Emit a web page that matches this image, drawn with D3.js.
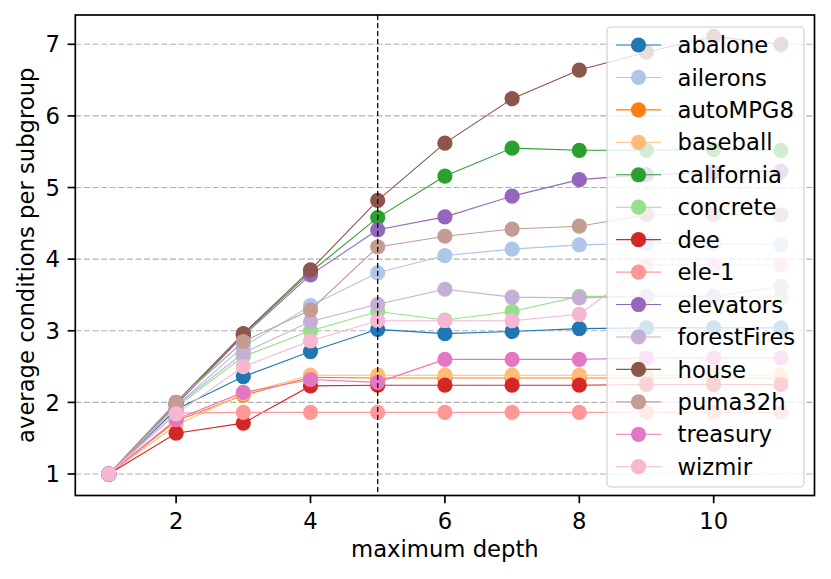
<!DOCTYPE html>
<html>
<head>
<meta charset="utf-8">
<script src="https://cdn.jsdelivr.net/npm/d3@7"></script>
<style>
  html, body { margin: 0; padding: 0; background: #fff; }
  svg { display: block; font-family: "DejaVu Sans", sans-serif; }
</style>
</head>
<body>
<svg id="chart" width="831" height="579"></svg>
<script>
// ---- data ----
const depths = [1, 2, 3, 4, 5, 6, 7, 8, 9, 10, 11];
const seriesNames = ["abalone", "ailerons", "autoMPG8", "baseball", "california", "concrete",
  "dee", "ele-1", "elevators", "forestFires", "house", "puma32h", "treasury", "wizmir"];
const abalone     = [1, 1.90, 2.36, 2.71, 3.02, 2.96, 2.99, 3.03, 3.04, 3.04, 3.04];
const ailerons    = [1, 1.95, 2.78, 3.35, 3.81, 4.05, 4.14, 4.20, 4.22, 4.22, 4.20];
const autoMPG8    = [1, 1.74, 2.10, 2.35, 2.34, 2.34, 2.34, 2.34, 2.34, 2.34, 2.34];
const baseball    = [1, 1.68, 2.12, 2.38, 2.38, 2.38, 2.38, 2.38, 2.38, 2.38, 2.38];
const california  = [1, 1.97, 2.95, 3.82, 4.58, 5.16, 5.55, 5.52, 5.52, 5.53, 5.52];
const concrete    = [1, 1.93, 2.64, 3.00, 3.27, 3.15, 3.27, 3.48, 3.48, 3.48, 3.47];
const dee         = [1, 1.57, 1.71, 2.23, 2.24, 2.24, 2.24, 2.24, 2.25, 2.25, 2.25];
const ele1        = [1, 1.85, 1.86, 1.86, 1.86, 1.86, 1.86, 1.86, 1.86, 1.86, 1.86];
const elevators   = [1, 1.97, 2.93, 3.78, 4.41, 4.59, 4.88, 5.11, 5.18, 5.21, 5.23];
const forestFires = [1, 1.95, 2.69, 3.13, 3.37, 3.58, 3.47, 3.46, 3.48, 3.48, 3.62];
const house       = [1, 2.00, 2.96, 3.85, 4.82, 5.62, 6.24, 6.64, 6.89, 7.11, 7.00];
const puma32h     = [1, 2.00, 2.85, 3.29, 4.17, 4.32, 4.42, 4.46, 4.62, 4.62, 4.62];
const treasury    = [1, 1.76, 2.14, 2.32, 2.28, 2.60, 2.60, 2.60, 2.62, 2.62, 2.62];
const wizmir      = [1, 1.84, 2.50, 2.86, 3.14, 3.14, 3.14, 3.23, 3.92, 3.92, 3.92];
const seriesValues = [abalone, ailerons, autoMPG8, baseball, california, concrete,
  dee, ele1, elevators, forestFires, house, puma32h, treasury, wizmir];
const colors = ["#1f77b4", "#aec7e8", "#ff7f0e", "#ffbb78", "#2ca02c", "#98df8a",
  "#d62728", "#ff9896", "#9467bd", "#c5b0d5", "#8c564b", "#c49c94", "#e377c2", "#f7b6d2"];
const xTicks = [2, 4, 6, 8, 10];
const yTicks = [1, 2, 3, 4, 5, 6, 7];
const markerLine = 5;

// ---- layout ----
const L = 75.3, R = 814.5, T = 15, B = 495.5;
const svg = d3.select("#chart");
const x = d3.scaleLinear().domain([0.5, 11.5]).range([L, R]);
const y = d3.scaleLinear().domain([0.700, 7.409]).range([B, T]);
const FS = 22.7;

// grid
svg.append("g").selectAll("line").data(yTicks).join("line")
  .attr("x1", L).attr("x2", R)
  .attr("y1", d => y(d)).attr("y2", d => y(d))
  .attr("stroke", "#b0b0b0").attr("stroke-width", 1.1)
  .attr("stroke-dasharray", "6,2.6");

// series
const line = d3.line().x((d, i) => x(depths[i])).y(d => y(d));
const plot = svg.append("g");
seriesValues.forEach((vals, k) => {
  const g = plot.append("g");
  g.append("path").datum(vals).attr("d", line)
    .attr("fill", "none").attr("stroke", colors[k]).attr("stroke-width", 1.1);
  g.selectAll("circle").data(vals).join("circle")
    .attr("cx", (d, i) => x(depths[i])).attr("cy", d => y(d))
    .attr("r", 7.6).attr("fill", colors[k]);
});

// vertical reference line
svg.append("line")
  .attr("x1", x(markerLine)).attr("x2", x(markerLine))
  .attr("y1", T).attr("y2", B)
  .attr("stroke", "#000").attr("stroke-width", 1.3)
  .attr("stroke-dasharray", "5,3");

// axes box
svg.append("rect").attr("x", L).attr("y", T).attr("width", R - L).attr("height", B - T)
  .attr("fill", "none").attr("stroke", "#000").attr("stroke-width", 1.7);

// x ticks
const xt = svg.append("g");
xt.selectAll("line").data(xTicks).join("line")
  .attr("x1", d => x(d)).attr("x2", d => x(d))
  .attr("y1", B).attr("y2", B + 7.7)
  .attr("stroke", "#000").attr("stroke-width", 1.7);
xt.selectAll("text").data(xTicks).join("text")
  .attr("x", d => x(d)).attr("y", 529)
  .attr("text-anchor", "middle").attr("font-size", FS).attr("fill", "#000")
  .text(d => d);

// y ticks
const yt = svg.append("g");
yt.selectAll("line").data(yTicks).join("line")
  .attr("x1", L - 7.7).attr("x2", L)
  .attr("y1", d => y(d)).attr("y2", d => y(d))
  .attr("stroke", "#000").attr("stroke-width", 1.7);
yt.selectAll("text").data(yTicks).join("text")
  .attr("x", 60).attr("y", d => y(d)).attr("dy", "0.36em")
  .attr("text-anchor", "end").attr("font-size", FS).attr("fill", "#000")
  .text(d => d);

// axis labels
svg.append("text").attr("x", (L + R) / 2).attr("y", 557)
  .attr("text-anchor", "middle").attr("font-size", FS).text("maximum depth");
svg.append("text")
  .attr("transform", `translate(34,${(T + B) / 2}) rotate(-90)`)
  .attr("text-anchor", "middle").attr("font-size", FS).text("average conditions per subgroup");

// legend
const lg = svg.append("g");
lg.append("rect").attr("x", 607).attr("y", 27).attr("width", 197).attr("height", 460)
  .attr("rx", 4).attr("ry", 4)
  .attr("fill", "#fff").attr("fill-opacity", 0.8)
  .attr("stroke", "#cccccc").attr("stroke-width", 1.1);
const rowY = i => 45 + i * 32.44;
seriesNames.forEach((name, i) => {
  const g = lg.append("g");
  g.append("line").attr("x1", 616).attr("x2", 661)
    .attr("y1", rowY(i)).attr("y2", rowY(i))
    .attr("stroke", colors[i]).attr("stroke-width", 1.1);
  g.append("circle").attr("cx", 638.5).attr("cy", rowY(i)).attr("r", 7.6).attr("fill", colors[i]);
  g.append("text").attr("x", 677.5).attr("y", rowY(i)).attr("dy", "0.36em")
    .attr("font-size", FS).attr("fill", "#000").text(name);
});
</script>
</body>
</html>
